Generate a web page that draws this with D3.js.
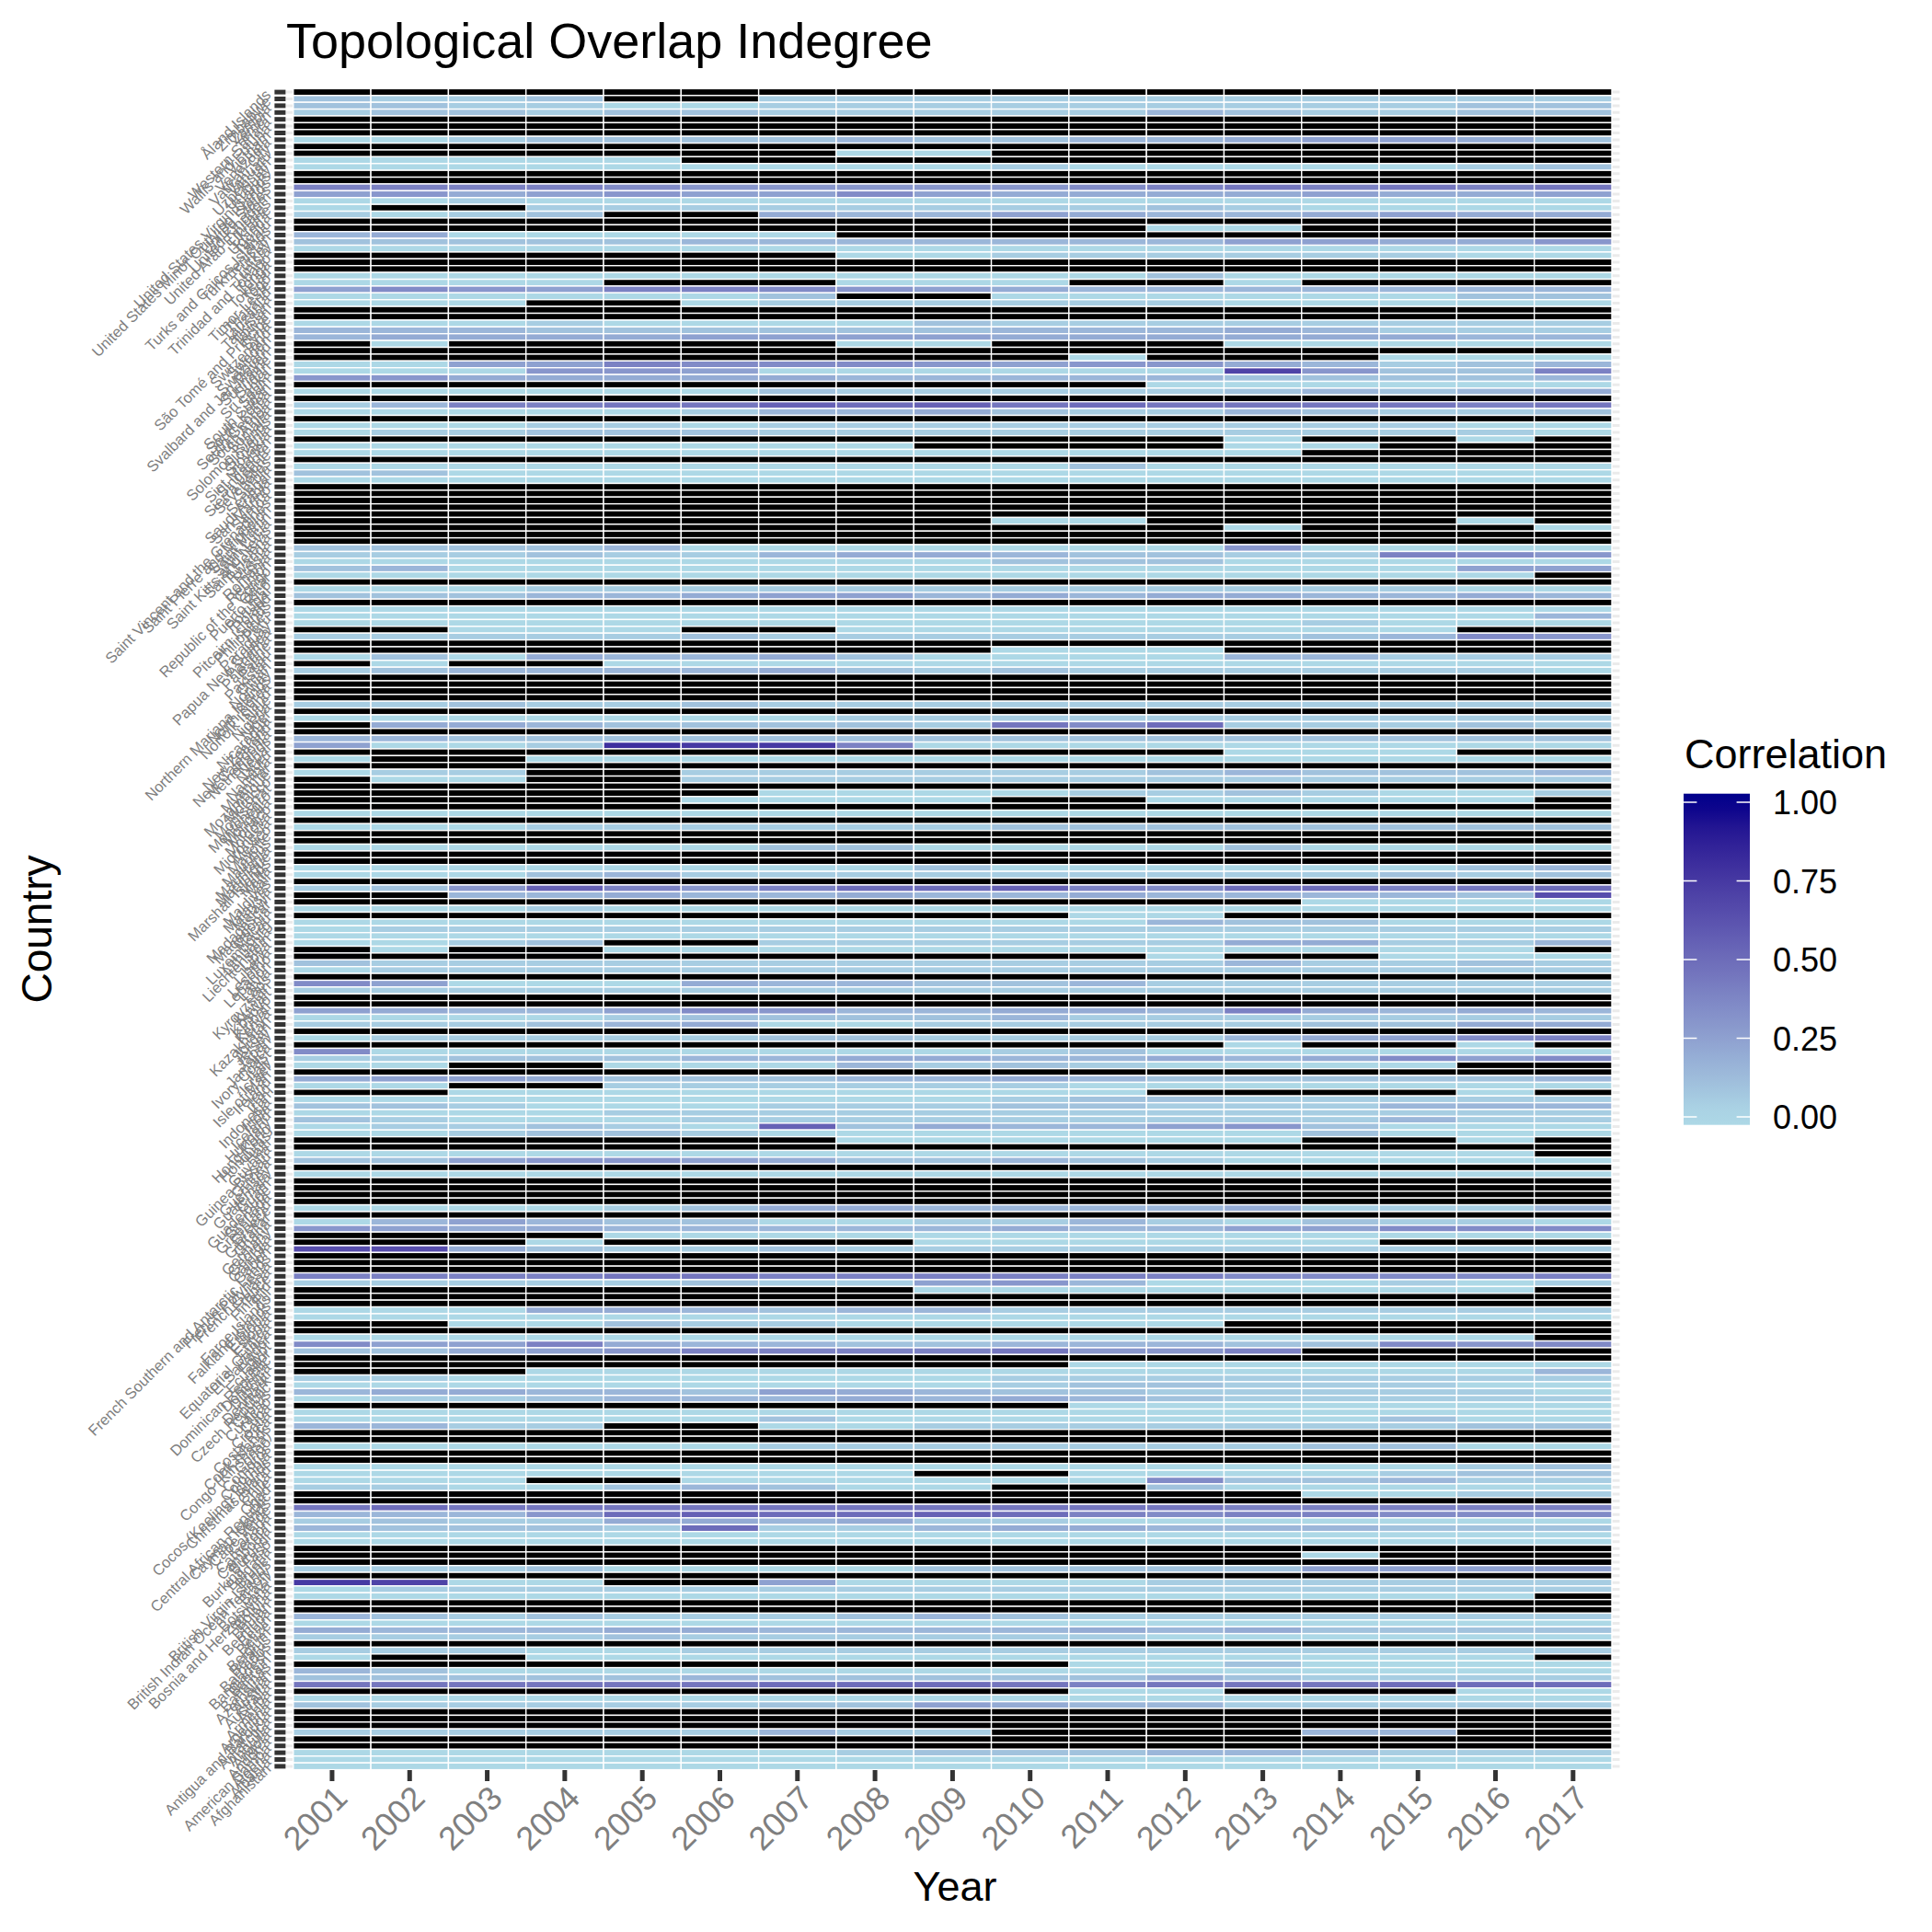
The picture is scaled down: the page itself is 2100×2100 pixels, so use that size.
<!DOCTYPE html>
<html>
<head>
<meta charset="utf-8">
<script src="https://cdn.jsdelivr.net/npm/d3@7"></script>
<style>
  html, body { margin: 0; background: #fff; }
  svg text { font-family: "Liberation Sans", sans-serif; }
</style>
</head>
<body>
<svg id="chart" width="2100" height="2100"></svg>
<script>
const years = ["2001","2002","2003","2004","2005","2006","2007","2008","2009","2010","2011","2012","2013","2014","2015","2016","2017"];

// alphabetical, drawn bottom to top
const countries = [
  "Afghanistan","Albania","Algeria","American Samoa","Andorra","Angola","Anguilla","Antarctica","Antigua and Barbuda","Argentina",
  "Armenia","Aruba","Australia","Austria","Azerbaijan","Bahamas","Bahrain","Bangladesh","Barbados","Belarus",
  "Belgium","Belize","Benin","Bermuda","Bhutan","Bolivia","Bosnia and Herzegovina","Botswana","Brazil","British Indian Ocean Territory",
  "British Virgin Islands","Brunei","Bulgaria","Burkina Faso","Burundi","Cambodia","Cameroon","Canada","Cape Verde","Cayman Islands",
  "Central African Republic","Chad","Chile","China","Christmas Island","Cocos (Keeling) Islands","Colombia","Comoros","Congo","Congo (Kinshasa)",
  "Cook Islands","Costa Rica","Croatia","Cuba","Curaçao","Cyprus","Czech Republic","Denmark","Djibouti","Dominica",
  "Dominican Republic","Ecuador","Egypt","El Salvador","Equatorial Guinea","Eritrea","Estonia","Ethiopia","Falkland Islands","Faroe Islands",
  "Fiji","Finland","France","French Guiana","French Polynesia","French Southern and Antarctic Lands","Gabon","Gambia","Georgia","Germany",
  "Ghana","Gibraltar","Greece","Greenland","Grenada","Guadeloupe","Guam","Guatemala","Guernsey","Guinea",
  "Guinea-Bissau","Guyana","Haiti","Honduras","Hong Kong","Hungary","Iceland","India","Indonesia","Iran",
  "Iraq","Ireland","Isle of Man","Israel","Italy","Ivory Coast","Jamaica","Japan","Jersey","Jordan",
  "Kazakhstan","Kenya","Kiribati","Kosovo","Kuwait","Kyrgyzstan","Laos","Latvia","Lebanon","Lesotho",
  "Liberia","Libya","Liechtenstein","Lithuania","Luxembourg","Macau","Macedonia","Madagascar","Malawi","Malaysia",
  "Maldives","Mali","Malta","Marshall Islands","Martinique","Mauritania","Mauritius","Mayotte","Mexico","Micronesia",
  "Moldova","Monaco","Mongolia","Montenegro","Montserrat","Morocco","Mozambique","Myanmar","Namibia","Nauru",
  "Nepal","Netherlands","New Caledonia","New Zealand","Nicaragua","Niger","Nigeria","Niue","Norfolk Island","North Korea",
  "Northern Mariana Islands","Norway","Oman","Pakistan","Palau","Palestine","Panama","Papua New Guinea","Paraguay","Peru",
  "Philippines","Pitcairn Islands","Poland","Portugal","Puerto Rico","Qatar","Republic of the Congo","Réunion","Romania","Russia",
  "Rwanda","Saint Helena","Saint Kitts and Nevis","Saint Lucia","Saint Martin","Saint Pierre and Miquelon","Saint Vincent and the Grenadines","Samoa","San Marino","Saudi Arabia",
  "Senegal","Serbia","Seychelles","Sierra Leone","Singapore","Sint Maarten","Slovakia","Slovenia","Solomon Islands","Somalia",
  "South Africa","South Georgia","South Korea","South Sudan","Spain","Sri Lanka","Sudan","Suriname","Svalbard and Jan Mayen","Swaziland",
  "Sweden","Switzerland","Syria","São Tomé and Príncipe","Taiwan","Tajikistan","Tanzania","Thailand","Timor-Leste","Togo",
  "Tokelau","Tonga","Trinidad and Tobago","Tunisia","Turkey","Turkmenistan","Turks and Caicos Islands","Tuvalu","Uganda","Ukraine",
  "United Arab Emirates","United Kingdom","United States","United States Minor Outlying Islands","United States Virgin Islands","Uruguay","Uzbekistan","Vanuatu","Vatican City","Venezuela",
  "Vietnam","Wallis and Futuna","Western Sahara","Yemen","Zambia","Zimbabwe","Åland Islands"
];

// one string per country, top row of the chart first, one char per year:
// "-" is a missing value (black), otherwise base 36 digit in steps of 0.05
const rows = [
  "-----------------","2112--11111111111","22110011111111122","12212211111321122","-----------------","-----------------","-----------------","00122223223345542",
  "-----------------","-------00--------","00000------------","00000000010000012","-----------------","-----------------","88887666667898989","56456557544445445",
  "00100000000000000","0--11111111210000","1012--43354334544","-----------------","-----------00----","3400000----------","22222333333355446","00000000000000000",
  "-------0011111100","-----------------","-----------------","00000000000200000","0000---000--0----","57658876543333333","0000002--00000022","000--011111100000",
  "-----------------","-----------------","00010000211111111","33322222233343111","34444555544444433","-0-----00---00000","-----------------","----------0---000",
  "00558777656643123","000665000000e6228","66444443333322223","-----------000000","00000021111123234","-----------------","138899bab9a999989","00000133421132112",
  "-----------------","00011011111111100","01122211111111110","------------0--0-","00000000----00---","0000000000000----","-----------------","00000000002000000",
  "22000000000000000","00000000000000000","-----------------","-----------------","-----------------","-----------------","-----------------","---------00----0-",
  "------------0---0","-----------------","-----------------","22223000000060000","11121134432211876","00000000022200000","23000000000000055","0000000000000000-",
  "-----------------","00011111111111100","22233455343443343","-----------------","00000000000000000","00000000000000003","00000000000001000","--000--00000000--",
  "11111211111112376","-----------------","---------000-----","02043342000033111","-0--0000000000000","12333342121111110","-----------------","-----------------",
  "-----------------","-----------------","11211211111111111","-----------------","00000001111111111","-4432222197a11121","-----------------","33222222222222222",
  "5001gff8000000000","------------000--","0--00000000000000","-----------------","011--111111232223","-00--111111111111","-----------------","------00001121001",
  "-----0000--00000-","-----------------","00000000000000000","-----------------","00011111122222222","-----------------","-----------------","00000022000020000",
  "-----------------","-----------------","00000000200000023","00023111111111212","-----------------","126b868aab87aa89a","--33433433433332d","-------------0000",
  "00010000000000000","----------00-----","00000000000322000","01111111111111111","00000000000000000","0012--11111144113","-0--000000000000-","-----------0--000",
  "21111111111131121","01111111111111111","-----------------","75000433223111111","11111111111111111","-----------------","-----------------","54335763344384343",
  "00001222231111111","11123400111112244","-----------------","01111122111134578","------------0--0-","70000000012000000","11222334433434757","00--00031210000--",
  "-----------------","45542223343222223","00--1111110000000","--000000000----0-","00000000012211111","22100011122111333","00001111111111111","21000111111111311",
  "011210b2433562000","00122100000002000","-------000000--0-","-----------------","0000000000000000-","22566542232100000","-----------------","00000000000000000",
  "-----------------","-----------------","-----------------","-----------------","00001244333341113","-----------------","03532200113102110","65443333343355777",
  "----0000000000000","---0----000000---","dd421121111111111","-----------------","-----------------","-----------------","88889988888877778","11111211563000101",
  "--------00000000-","-----------------","-----------------","00044323311111111","00000000000000000","--0021100000-----","-----------------","0000000000000000-",
  "75584332233322767","2245688889668----","-----------------","----------0000000","---00000000000003","11000000011111111","00000000012211100","34433254322111110",
  "01123334343211111","----------0000000","00000000000000000","00000020000000200","3311--00111111122","-----------------","-----------------","00000011111112200",
  "-----------------","-----------------","00000000000000012","00000000--0000122","000--000000722311","110023200--200000","-------------0011","-----------------",
  "9a999999999988888","3336abaaba8788777","12114434110000000","32221a11344333222","00000000000000000","00000000000000000","-----------------","-------------0---",
  "-----------------","11120000222225555","-----------------","fe00--50000111111","01111111111111111","0000000000000000-","-----------------","-----------------",
  "32121112321111111","00000000000000000","43334433334342222","11112111111000000","-----------------","11100111111111111","0--0000000000000-","----------0020000",
  "32000000000000000","22222322222421111","999999aaa98999aaa","----------00---00","00000000000000000","21111122543311111","-----------------","-----------------",
  "-----------------","111111311----33--","-----------------","-----------------","00000001222332111","00000000000000000","00000000000000000"
];

const legendBreaks = [0, 0.25, 0.5, 0.75, 1];

const grey = "#7f7f7f", tickColor = "#333333";
const panelLeft = 310.4, panelRight = 1760.5, panelBottom = 1924;
const tileLeft = 318.8, tileRight = 1752;

const topDown = countries.slice().reverse();
const decode = c => c === "-" ? null : parseInt(c, 36) * 0.05;
const cells = rows.flatMap((r, i) =>
  Array.from(r, (c, j) => ({ country: topDown[i], year: years[j], value: decode(c) })));

const svg = d3.select("#chart");

const x = d3.scaleBand().domain(years).range([tileLeft, tileRight]);
const y = d3.scaleBand().domain(topDown).range([96.4, 1923.6]);
const color = d3.scaleLinear().domain([0, 1]).range(["#ADD8E6", "#00008B"]).interpolate(d3.interpolateLab);

// horizontal grid, only shows in the panel margin left and right of the tiles
svg.append("g").selectAll("line")
  .data(topDown)
  .join("line")
  .attr("x1", panelLeft).attr("x2", panelRight)
  .attr("y1", d => y(d) + y.bandwidth() / 2).attr("y2", d => y(d) + y.bandwidth() / 2)
  .attr("stroke", "#ebebeb")
  .attr("stroke-width", 3);

svg.append("g").selectAll("rect")
  .data(cells)
  .join("rect")
  .attr("x", d => x(d.year))
  .attr("y", d => y(d.country))
  .attr("width", x.bandwidth())
  .attr("height", y.bandwidth())
  .attr("fill", d => d.value === null ? "#000000" : color(d.value))
  .attr("stroke", "#ffffff")
  .attr("stroke-width", 1.4);

// axes
const xAxis = svg.append("g")
  .attr("transform", `translate(0,${panelBottom})`)
  .call(d3.axisBottom(x).tickSize(12).tickPadding(3));
xAxis.select(".domain").remove();
xAxis.selectAll(".tick line").attr("stroke", tickColor).attr("stroke-width", 5);
xAxis.selectAll(".tick text")
  .attr("fill", grey)
  .attr("font-size", 36)
  .attr("text-anchor", "end")
  .attr("dy", 0)
  .attr("transform", "translate(8,22) rotate(-45)");

const yAxis = svg.append("g")
  .attr("transform", `translate(${panelLeft},0)`)
  .call(d3.axisLeft(y).tickSize(12).tickPadding(3));
yAxis.select(".domain").remove();
yAxis.selectAll(".tick line").attr("stroke", tickColor).attr("stroke-width", 5);
yAxis.selectAll(".tick text")
  .attr("fill", grey)
  .attr("font-size", 16.5)
  .attr("text-anchor", "end")
  .attr("dy", 0)
  .attr("x", 0)
  .attr("transform", "translate(-15,4) rotate(-45)");

// titles
svg.append("text").attr("x", 311).attr("y", 63).attr("font-size", 54).attr("fill", "#000").text("Topological Overlap Indegree");
svg.append("text").attr("x", 1038).attr("y", 2066).attr("text-anchor", "middle").attr("font-size", 45).attr("fill", "#000").text("Year");
svg.append("text").attr("transform", "translate(56,1010) rotate(-90)").attr("text-anchor", "middle").attr("font-size", 46).attr("fill", "#000").text("Country");

// legend
const legendX = 1830, legendW = 72;
const legendY = d3.scaleLinear().domain([0, 1]).range([1214, 872]);
const legendTop = 862.7, legendBottom = 1222.7;
const grad = svg.append("defs").append("linearGradient").attr("id", "corr").attr("x1", 0).attr("x2", 0).attr("y1", 0).attr("y2", 1);
grad.selectAll("stop")
  .data(d3.range(0, 21))
  .join("stop")
  .attr("offset", d => d / 20)
  .attr("stop-color", d => color(Math.max(0, Math.min(1, legendY.invert(legendTop + (legendBottom - legendTop) * d / 20)))));

svg.append("rect")
  .attr("x", legendX).attr("y", legendTop)
  .attr("width", legendW).attr("height", legendBottom - legendTop)
  .attr("fill", "url(#corr)");

svg.append("text").attr("x", 1831).attr("y", 835).attr("font-size", 45).attr("fill", "#000").text("Correlation");

const legendAxis = svg.append("g")
  .attr("transform", `translate(${legendX + legendW},0)`)
  .call(d3.axisRight(legendY).tickValues(legendBreaks).tickFormat(d3.format(".2f")).tickSize(0).tickPadding(25));
legendAxis.select(".domain").remove();
legendAxis.selectAll(".tick text").attr("font-size", 36).attr("fill", "#000").attr("dy", "0.36em");

const legendTicks = svg.append("g").selectAll("g").data(legendBreaks).join("g");
legendTicks.append("line")
  .attr("x1", legendX).attr("x2", legendX + 14.4)
  .attr("y1", legendY).attr("y2", legendY)
  .attr("stroke", "#fff").attr("stroke-width", 1.5);
legendTicks.append("line")
  .attr("x1", legendX + legendW - 14.4).attr("x2", legendX + legendW)
  .attr("y1", legendY).attr("y2", legendY)
  .attr("stroke", "#fff").attr("stroke-width", 1.5);
</script>
</body>
</html>
